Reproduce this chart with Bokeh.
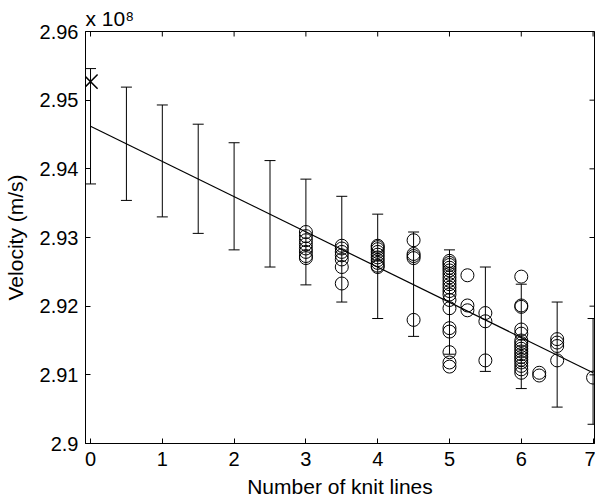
import math
from bokeh.plotting import figure
from bokeh.models import LinearAxis, Range1d, FixedTicker, Title
from bokeh.embed import file_html
from bokeh.resources import INLINE

# Data (velocity in units of 10^8 m/s)
pts_x3 = [2.9308, 2.9302, 2.9296, 2.9290, 2.9284, 2.9279, 2.9273, 2.9270]
pts_x35 = [2.9288, 2.9284, 2.9279, 2.9274, 2.9268, 2.9257, 2.9233]
pts_x4 = [2.9288, 2.9286, 2.9283, 2.9279, 2.9275, 2.9271, 2.9267, 2.9263, 2.9259, 2.9257]
pts_x45 = [2.9296, 2.9276, 2.9273, 2.9270, 2.9180]
pts_x5 = [2.9266, 2.9263, 2.9260, 2.9256, 2.9252, 2.9247, 2.9242, 2.9237, 2.9232, 2.9227,
          2.9222, 2.9217, 2.9209, 2.9197, 2.9168, 2.9163, 2.9133, 2.9118, 2.9112]
pts_x525 = [2.9245, 2.9201, 2.9194]
pts_x55 = [2.9190, 2.9178, 2.9121]
pts_x6 = [2.9243, 2.9201, 2.9199, 2.9166, 2.9160, 2.9150, 2.9146, 2.9142, 2.9138, 2.9134,
          2.9130, 2.9126, 2.9122, 2.9118, 2.9113, 2.9108, 2.9103]
pts_x625 = [2.9103, 2.9099]
pts_x65 = [2.9152, 2.9147, 2.9142, 2.9121]
pts_x7 = [2.9096]

groups = [(3, pts_x3), (3.5, pts_x35), (4, pts_x4), (4.5, pts_x45), (5, pts_x5),
          (5.25, pts_x525), (5.5, pts_x55), (6, pts_x6), (6.25, pts_x625),
          (6.5, pts_x65), (7, pts_x7)]

err_x = [0, 0.5, 1, 1.5, 2, 2.5, 3, 3.5, 4, 4.5, 5, 5.5, 6, 6.5, 7]
err_upper = [2.9546, 2.9519, 2.9493, 2.9465, 2.9438, 2.9412, 2.9385, 2.9360,
             2.9334, 2.9308, 2.9282, 2.9257, 2.9232, 2.9206, 2.9182]
err_lower = [2.9378, 2.9354, 2.9330, 2.9306, 2.9282, 2.9257, 2.9231, 2.9206,
             2.9182, 2.9156, 2.9130, 2.9105, 2.9080, 2.9053, 2.9028]

fit_x = [0, 7]
fit_y = [2.9462, 2.9103]

ref_x = [0]
ref_y = [2.9527]

x_ticks = [0, 1, 2, 3, 4, 5, 6, 7]
y_ticks = [2.9, 2.91, 2.92, 2.93, 2.94, 2.95, 2.96]
y_tick_labels = {2.9: "2.9", 2.91: "2.91", 2.92: "2.92", 2.93: "2.93",
                 2.94: "2.94", 2.95: "2.95", 2.96: "2.96"}

X_START, X_END = -0.07, 7.02
Y_START, Y_END = 2.9, 2.96

FONT = "Liberation Sans"
FS = "20px"
FS_LAB = "21px"

p = figure(frame_width=509, frame_height=412, output_backend="svg", toolbar_location=None,
           x_range=Range1d(X_START, X_END), y_range=Range1d(Y_START, Y_END),
           min_border_left=85, min_border_top=31, min_border_right=1,
           min_border_bottom=52, x_axis_location=None, y_axis_location=None)
p.grid.visible = False
p.outline_line_color = "black"
p.outline_line_width = 1
p.background_fill_color = "white"
p.border_fill_color = "white"

# exponent marker as title
p.title = Title(text="x 10\u2078", align="left", text_font=FONT, text_font_size=FS_LAB,
                text_font_style="normal", text_color="black", standoff=3, offset=0)


def make_axis(ticks, label, overrides=None):
    ax = LinearAxis(ticker=FixedTicker(ticks=ticks))
    ax.major_tick_in = 5
    ax.major_tick_out = 0
    ax.minor_tick_in = 0
    ax.minor_tick_out = 0
    ax.axis_line_color = "black"
    ax.major_tick_line_color = "black"
    ax.major_label_text_font = FONT
    ax.major_label_text_font_size = FS
    ax.major_label_text_color = "black"
    if overrides:
        ax.major_label_overrides = overrides
    ax.axis_label = label
    ax.axis_label_text_font = FONT
    ax.axis_label_text_font_size = FS_LAB
    ax.axis_label_text_font_style = "normal"
    ax.axis_label_text_color = "black"
    return ax


xb = make_axis(x_ticks, "Number of knit lines")
xb.major_label_standoff = 8
xb.axis_label_standoff = 6
yl = make_axis(y_ticks, "Velocity (m/s)", overrides=dict(y_tick_labels))
yl.major_label_standoff = 7
yl.axis_label_standoff = 10
p.add_layout(xb, "below")
p.add_layout(yl, "left")

# top and right inward ticks (box axes), drawn at the frame edges
p.scatter(x=x_ticks, y=[Y_END] * len(x_ticks), marker="dash", angle=math.pi / 2,
          size=10, line_color="black", line_width=1)
p.scatter(x=[X_END] * len(y_ticks), y=y_ticks, marker="dash",
          size=10, line_color="black", line_width=1)

# error bars
p.segment(x0=err_x, y0=err_lower, x1=err_x, y1=err_upper, line_color="black", line_width=1)
p.scatter(x=err_x, y=err_upper, marker="dash", size=11, line_color="black", line_width=1)
p.scatter(x=err_x, y=err_lower, marker="dash", size=11, line_color="black", line_width=1)

# fit line
p.line(x=fit_x, y=fit_y, line_color="black", line_width=1.2)

# data circles
all_x = []
all_y = []
for gx, gys in groups:
    all_x += [gx] * len(gys)
    all_y += gys
p.scatter(x=all_x, y=all_y, marker="circle", size=13, fill_color=None,
          line_color="black", line_width=1)

# reference point
p.scatter(x=ref_x, y=ref_y, marker="x", size=20, line_color="black", line_width=1.5)

open("out.html", "w").write(file_html(p, INLINE))
